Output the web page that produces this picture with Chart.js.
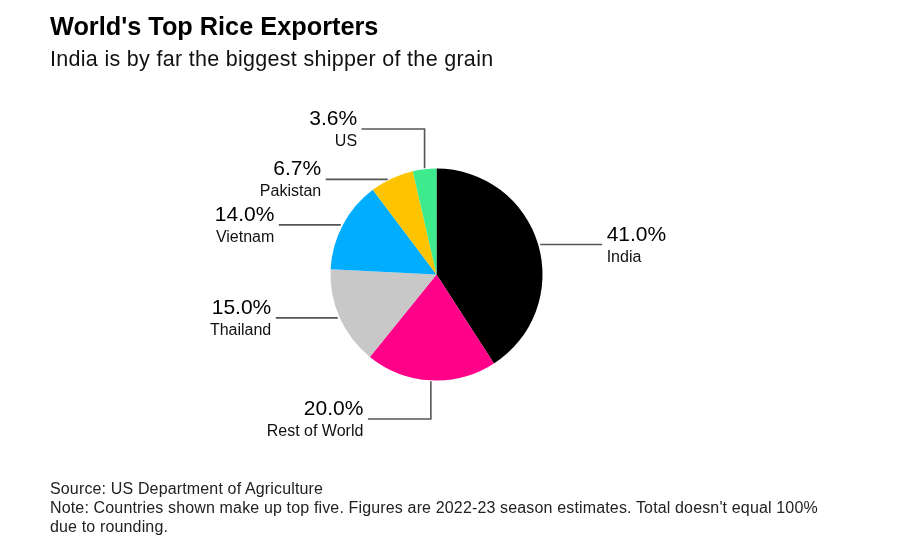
<!DOCTYPE html>
<html>
<head>
<meta charset="utf-8">
<script src="https://cdn.jsdelivr.net/npm/chart.js@4/dist/chart.umd.min.js"></script>
<style>
  html, body { margin: 0; padding: 0; background: #fff; }
  body { width: 900px; height: 553px; position: relative; overflow: hidden; font-family: "Liberation Sans", Arial, sans-serif; color: #000; }
  #wrap { position: absolute; left: 0; top: 0; width: 900px; height: 553px; }
  .title { position: absolute; left: 50px; top: 12px; font-size: 25.3px; font-weight: bold; white-space: nowrap; }
  .subtitle { position: absolute; left: 50px; top: 47px; font-size: 21.5px; letter-spacing: 0.3px; white-space: nowrap; color: #111; }
  .foot { position: absolute; left: 50px; top: 479px; font-size: 16px; letter-spacing: 0.15px; line-height: 19px; color: #222; width: 830px; }
</style>
</head>
<body>
<div id="wrap"><canvas id="c" width="900" height="553"></canvas></div>
<div class="title">World's Top Rice Exporters</div>
<div class="subtitle">India is by far the biggest shipper of the grain</div>
<div class="foot">Source: US Department of Agriculture<br>Note: Countries shown make up top five. Figures are 2022-23 season estimates. Total doesn't equal 100%<br>due to rounding.</div>
<script>
const categories = ['India', 'Rest of World', 'Thailand', 'Vietnam', 'Pakistan', 'US'];
const shares = [41.0, 20.0, 15.0, 14.0, 6.7, 3.6];
const sliceColors = ['#000000', '#ff0088', '#c8c8c8', '#00adff', '#ffc400', '#3deb8c'];

// label layout (style only): side, type, offsets
const labelLayout = [
  { side: 'right', type: 'straight', dy: 0 },
  { side: 'left', type: 'elbow', labelY: 144.5, dx: 0 },
  { side: 'left', type: 'straight', dy: 0 },
  { side: 'left', type: 'straight', dy: 0 },
  { side: 'left', type: 'straight', dy: 1 },
  { side: 'left', type: 'elbow', labelY: -145.5, dx: 0 }
];

const leaderPlugin = {
  id: 'leaders',
  afterDatasetsDraw(chart) {
    const ctx = chart.ctx;
    const meta = chart.getDatasetMeta(0);
    const len = 62, gap = 4.5, edgeGap = 2;
    meta.data.forEach((arc, i) => {
      const p = arc.getProps(['x', 'y', 'startAngle', 'endAngle', 'outerRadius'], true);
      const cx = p.x, cy = p.y, r = p.outerRadius;
      const mid = (p.startAngle + p.endAngle) / 2;
      const mx = cx + Math.cos(mid) * r, my = cy + Math.sin(mid) * r;
      const L = labelLayout[i];
      let lineY, x0, x1;
      ctx.save();
      ctx.strokeStyle = '#555';
      ctx.lineWidth = 1.6;
      ctx.beginPath();
      if (L.type === 'straight') {
        lineY = my + L.dy;
        const dx = Math.sqrt(Math.max(r * r - (lineY - cy) * (lineY - cy), 0));
        x0 = L.side === 'right' ? cx + dx + edgeGap : cx - dx - edgeGap;
        x1 = L.side === 'right' ? x0 + len : x0 - len;
        ctx.moveTo(x0, lineY); ctx.lineTo(x1, lineY);
      } else {
        lineY = cy + L.labelY;
        x0 = mx + L.dx;
        x1 = L.side === 'right' ? x0 + len + 1 : x0 - len - 1;
        ctx.moveTo(x0, my + (lineY < cy ? -1 : 1)); ctx.lineTo(x0, lineY); ctx.lineTo(x1, lineY);
      }
      ctx.stroke();
      const tx = L.side === 'right' ? x1 + gap : x1 - gap;
      ctx.textAlign = L.side === 'right' ? 'left' : 'right';
      ctx.textBaseline = 'alphabetic';
      ctx.fillStyle = '#000';
      ctx.font = '21px "Liberation Sans", Arial, sans-serif';
      ctx.fillText(shares[i].toFixed(1) + '%', tx, lineY - 4);
      ctx.fillStyle = '#111';
      ctx.font = '16px "Liberation Sans", Arial, sans-serif';
      ctx.fillText(categories[i], tx, lineY + 17);
      ctx.restore();
    });
  }
};

new Chart(document.getElementById('c'), {
  type: 'pie',
  data: {
    labels: categories,
    datasets: [{
      data: shares,
      backgroundColor: sliceColors,
      borderWidth: 0,
      hoverOffset: 0
    }]
  },
  options: {
    responsive: false,
    animation: false,
    events: [],
    layout: { padding: { left: 330.5, right: 357.5, top: 168.5, bottom: 172.5 } },
    plugins: { legend: { display: false }, tooltip: { enabled: false }, title: { display: false } }
  },
  plugins: [leaderPlugin]
});
</script>
</body>
</html>
